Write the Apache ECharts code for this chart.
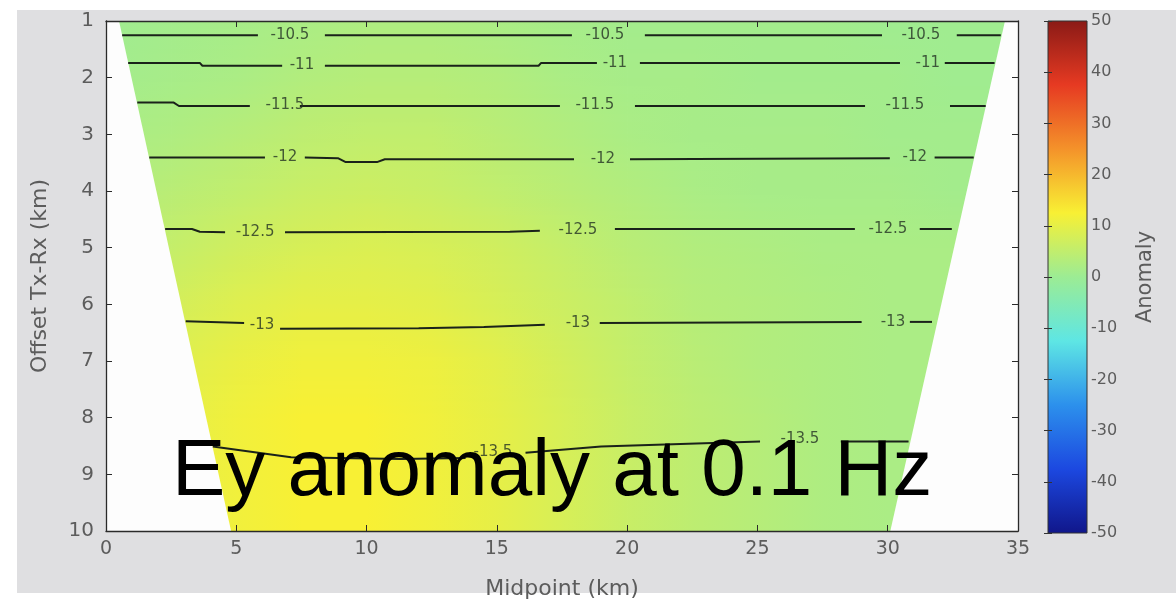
<!DOCTYPE html>
<html>
<head>
<meta charset="utf-8">
<script src="https://cdn.jsdelivr.net/npm/echarts@6/dist/echarts.min.js"></script>
<style>
  html, body { margin: 0; padding: 0; background: #ffffff; }
  #panel { position: absolute; left: 17px; top: 10px; width: 1159px; height: 583px; background: #dfdfe1; }
  #chart { position: absolute; left: 0; top: 0; width: 1176px; height: 605px; }
</style>
</head>
<body>
<div id="panel"></div>
<div id="chart"></div>
<script>
// Survey grid: midpoint positions (km) and Tx-Rx offsets (km)
const midpoints = [0, 2.5, 5, 7.5, 10, 12.5, 15, 17.5, 20, 22.5, 25, 27.5, 30, 32.5, 35];
const offsets = [1, 2, 3, 4, 5, 6, 7, 8, 9, 10];

// Ey anomaly (%) at each offset row, one value per midpoint
const anomaly = [
  [0.5, 1, 1.5, 2, 2.5, 2.5, 2, 1.5, 1, 1, 1, 1, 0.5, 0.5, 0.5],
  [1, 1.5, 2, 3, 3.5, 3.5, 3, 2, 1.5, 1.5, 1, 1, 1, 0.5, 0.5],
  [2, 2.5, 3.5, 4.5, 5, 5, 4, 3, 2, 1.5, 1.5, 1.5, 1, 1, 1],
  [3, 4, 5, 6, 6.5, 6, 5, 4, 3, 2, 1.5, 1.5, 1.5, 1, 1],
  [4.5, 5.5, 7, 8, 8.5, 8, 7, 5.5, 4, 3, 2.5, 2, 2, 2, 2],
  [6, 7.5, 9, 10, 10, 9.5, 8, 6.5, 5, 3.5, 3, 2.5, 2, 2, 2],
  [7, 9, 10.5, 11.5, 11.5, 11, 9.5, 7.5, 5.5, 4, 3, 2.5, 2, 2, 2],
  [8, 10, 11.5, 12.5, 12.5, 11.5, 10, 8, 6, 4.5, 3.5, 2.5, 2, 2, 2],
  [8, 10, 11.5, 12.5, 12.5, 11.5, 10, 8, 6, 4.5, 3.5, 2.5, 2, 2, 2],
  [8, 10, 11.5, 12.5, 12.5, 11.5, 10, 8, 6, 4.5, 3.5, 2.5, 2, 2, 2]
];

// Data coverage: midpoint limits at the shortest and longest offsets
const coverOffsets = [1, 10];
const coverLeft = [0.5, 4.8];
const coverRight = [34.5, 30.1];

// Contour levels of the field amplitude and their traced paths [midpoint, offset]
const contourLevels = [-10.5, -11, -11.5, -12, -12.5, -13, -13.5];
const contourSegments = [
  [ [[0.62, 1.25], [5.83, 1.25]], [[8.40, 1.25], [17.88, 1.25]], [[20.68, 1.25], [29.78, 1.25]], [[32.65, 1.25], [34.34, 1.25]] ],
  [ [[0.85, 1.74], [3.6, 1.74], [3.7, 1.79], [6.76, 1.79]], [[8.40, 1.79], [16.6, 1.79], [16.7, 1.74], [18.84, 1.74]], [[20.49, 1.74], [30.47, 1.74]], [[32.19, 1.74], [34.1, 1.74]] ],
  [ [[1.2, 2.44], [2.6, 2.44], [2.8, 2.50], [5.52, 2.50]], [[7.44, 2.50], [17.42, 2.50]], [[20.30, 2.50], [29.13, 2.50]], [[32.39, 2.50], [33.76, 2.50]] ],
  [ [[1.66, 3.41], [6.10, 3.41]], [[7.63, 3.41], [8.9, 3.42], [9.2, 3.49], [10.4, 3.49], [10.7, 3.44], [17.96, 3.44]], [[20.11, 3.44], [30.08, 3.42]], [[31.8, 3.41], [33.3, 3.41]] ],
  [ [[2.27, 4.67], [3.3, 4.67], [3.6, 4.72], [4.57, 4.73]], [[6.87, 4.73], [15.5, 4.72], [16.65, 4.70]], [[19.53, 4.67], [28.74, 4.67]], [[31.23, 4.67], [32.46, 4.67]] ],
  [ [[3.06, 6.30], [5.3, 6.33]], [[6.68, 6.43], [12.0, 6.42], [14.5, 6.40], [16.84, 6.36]], [[18.95, 6.33], [29.0, 6.31]], [[30.85, 6.31], [31.7, 6.31]] ],
  [ [[4.1, 8.51], [7.1, 8.70], [11.3, 8.73], [13.8, 8.71]], [[16.1, 8.62], [19.0, 8.51], [25.1, 8.42]], [[28.2, 8.42], [30.8, 8.42]] ]
];
const contourLabelSpots = [
  [[7.06, 1.25], [19.15, 1.25], [31.27, 1.25]],
  [[7.52, 1.77], [19.53, 1.74], [31.54, 1.74]],
  [[6.87, 2.49], [18.76, 2.49], [30.66, 2.49]],
  [[6.87, 3.41], [19.07, 3.44], [31.04, 3.41]],
  [[5.72, 4.72], [18.11, 4.69], [30.01, 4.67]],
  [[5.99, 6.37], [18.11, 6.34], [30.20, 6.31]],
  [[14.85, 8.60], [26.63, 8.38]]
];

// Colour scale limits
const anomalyMin = -50;
const anomalyMax = 50;

// Jet-like colour map used by both the field and the colour bar
const cmap = [
  [-50, [16, 22, 138]], [-37.5, [28, 72, 224]], [-25, [44, 144, 236]], [-12.5, [94, 230, 228]],
  [0, [156, 236, 148]], [12.5, [248, 240, 52]], [25, [244, 146, 42]], [37.5, [230, 58, 34]], [50, [138, 26, 22]]
];
function colorOf(v) {
  v = Math.max(anomalyMin, Math.min(anomalyMax, v));
  for (let i = 0; i < cmap.length - 1; i++) {
    const a = cmap[i], b = cmap[i + 1];
    if (v <= b[0]) {
      const t = (v - a[0]) / (b[0] - a[0]);
      const c = a[1].map((x, k) => Math.round(x + (b[1][k] - x) * t));
      return 'rgb(' + c.join(',') + ')';
    }
  }
  return 'rgb(' + cmap[cmap.length - 1][1].join(',') + ')';
}

// Cells between neighbouring grid nodes, with their four corner values
const cells = [];
for (let i = 0; i < offsets.length - 1; i++) {
  for (let j = 0; j < midpoints.length - 1; j++) {
    cells.push([midpoints[j], midpoints[j + 1], offsets[i], offsets[i + 1],
      anomaly[i][j], anomaly[i][j + 1], anomaly[i + 1][j], anomaly[i + 1][j + 1]]);
  }
}

const tickColor = '#5c5c5c';
const lineColor = '#2a2a2a';
const font = 'DejaVu Sans';

function renderCell(params, api) {
  const m0 = api.value(0), m1 = api.value(1), o0 = api.value(2), o1 = api.value(3);
  const a = api.value(4), b = api.value(5), c = api.value(6), d = api.value(7);
  const p0 = api.coord([m0, o0]), p1 = api.coord([m1, o1]);
  const x0 = p0[0], x1 = p1[0], y0 = p0[1], y1 = p1[1];
  const n = 14, children = [];
  for (let k = 0; k < n; k++) {
    const t = (k + 0.5) / n;
    const vl = a + (c - a) * t, vr = b + (d - b) * t;
    const y = y0 + (y1 - y0) * k / n;
    children.push({
      type: 'rect',
      shape: { x: x0, y: y, width: x1 - x0 + 0.8, height: (y1 - y0) / n + 0.8 },
      style: { fill: { type: 'linear', x: 0, y: 0, x2: 1, y2: 0, global: false,
        colorStops: [{ offset: 0, color: colorOf(vl) }, { offset: 1, color: colorOf(vr) }] } }
    });
  }
  return { type: 'group', children: children };
}

function renderMask(params, api) {
  const idx = params.dataIndex;
  const edgeX = idx === 0 ? midpoints[0] : midpoints[midpoints.length - 1];
  const bound = idx === 0 ? coverLeft : coverRight;
  const pts = [
    [edgeX, coverOffsets[0]], [bound[0], coverOffsets[0]],
    [bound[1], coverOffsets[1]], [edgeX, coverOffsets[1]]
  ].map(p => api.coord(p));
  return { type: 'polygon', shape: { points: pts }, style: { fill: '#fdfdfd' } };
}

function renderColorbar(params, api) {
  const p0 = api.coord([0, anomalyMax]), p1 = api.coord([1, anomalyMin]);
  const stops = cmap.map(s => ({ offset: (anomalyMax - s[0]) / (anomalyMax - anomalyMin), color: 'rgb(' + s[1].join(',') + ')' }));
  return {
    type: 'rect',
    shape: { x: p0[0], y: p0[1], width: p1[0] - p0[0], height: p1[1] - p0[1] },
    style: { fill: { type: 'linear', x: 0, y: 0, x2: 0, y2: 1, global: false, colorStops: stops },
      stroke: '#333', lineWidth: 1 }
  };
}

const series = [
  { type: 'custom', xAxisIndex: 0, yAxisIndex: 0, data: cells, encode: { x: [0, 1], y: [2, 3] },
    renderItem: renderCell, clip: true, silent: true, z: 1 },
  { type: 'custom', xAxisIndex: 0, yAxisIndex: 0, data: [[midpoints[0], offsets[0]], [midpoints[midpoints.length - 1], offsets[offsets.length - 1]]],
    encode: { x: 0, y: 1 }, renderItem: renderMask, clip: true, silent: true, z: 2 },
  { type: 'custom', xAxisIndex: 2, yAxisIndex: 2, data: [[0, 0]], encode: { x: 0, y: 1 },
    renderItem: renderColorbar, silent: true, z: 1 }
];

contourLevels.forEach((lvl, k) => {
  contourSegments[k].forEach(seg => {
    series.push({
      type: 'line', xAxisIndex: 0, yAxisIndex: 0, data: seg, symbol: 'none', showSymbol: false,
      lineStyle: { color: '#1a221a', width: 2 }, silent: true, z: 4
    });
  });
});

series.push({
  type: 'scatter', xAxisIndex: 0, yAxisIndex: 0, symbolSize: 1, silent: true, z: 5,
  itemStyle: { color: 'transparent' },
  data: contourLevels.flatMap((lvl, k) => contourLabelSpots[k].map(p => [p[0], p[1], lvl])),
  label: { show: true, position: 'inside', color: '#243224', fontSize: 15, fontFamily: font,
    formatter: p => String(p.value[2]) }
});

const baseAxis = {
  type: 'value', z: 10, splitLine: { show: false },
  axisLine: { show: true, onZero: false, lineStyle: { color: lineColor, width: 1.3 } },
  axisTick: { show: true, inside: true, length: 6, lineStyle: { color: lineColor, width: 1 } }
};

const option = {
  animation: false,
  grid: [
    { left: 106, top: 21, width: 912, height: 512, show: true, backgroundColor: '#ffffff', borderWidth: 0 },
    { left: 1048, top: 21, width: 39, height: 512, show: false }
  ],
  xAxis: [
    Object.assign({}, baseAxis, { gridIndex: 0, position: 'bottom', min: 0, max: 35, interval: 5,
      axisLabel: { color: tickColor, fontSize: 19, fontFamily: font, margin: 9 },
      name: 'Midpoint (km)', nameLocation: 'middle', nameGap: 47,
      nameTextStyle: { color: tickColor, fontSize: 22, fontFamily: font } }),
    Object.assign({}, baseAxis, { gridIndex: 0, position: 'top', min: 0, max: 35, interval: 5,
      axisLabel: { show: false } }),
    { gridIndex: 1, type: 'value', min: 0, max: 1, show: false }
  ],
  yAxis: [
    Object.assign({}, baseAxis, { gridIndex: 0, position: 'left', inverse: true, min: 1, max: 10, interval: 1,
      axisLabel: { color: tickColor, fontSize: 20, fontFamily: font, margin: 12 },
      name: 'Offset Tx-Rx (km)', nameLocation: 'middle', nameGap: 55,
      nameTextStyle: { color: tickColor, fontSize: 22, fontFamily: font } }),
    Object.assign({}, baseAxis, { gridIndex: 0, position: 'right', inverse: true, min: 1, max: 10, interval: 1,
      axisLabel: { show: false } }),
    Object.assign({}, baseAxis, { gridIndex: 1, position: 'right', min: anomalyMin, max: anomalyMax, interval: 10,
      axisLine: { show: false }, axisTick: { show: true, inside: true, length: 4, lineStyle: { color: '#333' } },
      axisLabel: { color: tickColor, fontSize: 16, fontFamily: font, margin: 4 },
      name: 'Anomaly', nameLocation: 'middle', nameGap: 48,
      nameTextStyle: { color: tickColor, fontSize: 21, fontFamily: font } }),
    Object.assign({}, baseAxis, { gridIndex: 1, position: 'left', min: anomalyMin, max: anomalyMax, interval: 10,
      axisLine: { show: false }, axisTick: { show: true, inside: true, length: 4, lineStyle: { color: '#333' } },
      axisLabel: { show: false } })
  ],
  graphic: [
    { type: 'text', z: 100, silent: true,
      style: { text: 'Ey anomaly at 0.1 Hz', x: 172, y: 473, fill: '#000000',
        font: '80px "Liberation Sans", Arial, sans-serif', verticalAlign: 'middle', align: 'left' } }
  ],
  series: series
};

const chart = echarts.init(document.getElementById('chart'), null, { renderer: 'canvas' });
chart.setOption(option);
</script>
</body>
</html>
